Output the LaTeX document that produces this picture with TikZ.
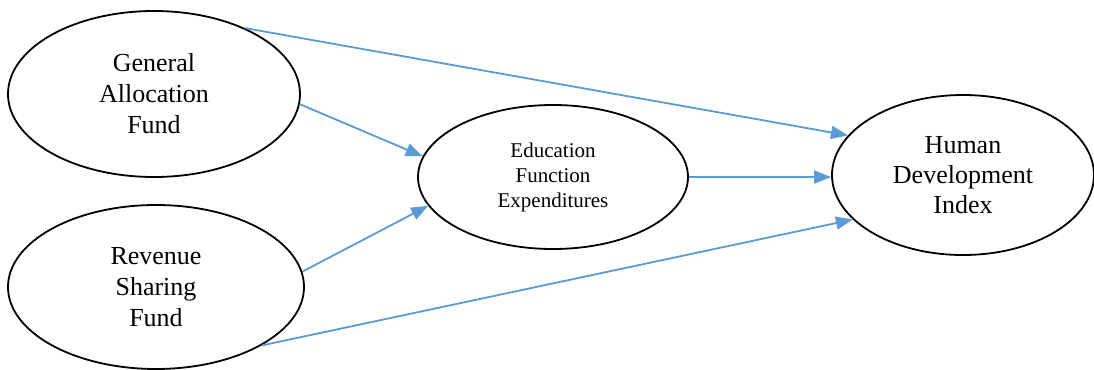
\documentclass[tikz,border=0pt]{standalone}
\usepackage{fontspec}
\setmainfont{Liberation Serif}
\definecolor{lineblue}{RGB}{91, 155, 213}
\usetikzlibrary{arrows.meta}
\usetikzlibrary{shapes.geometric}
\tikzset{
  construct/.style={
    ellipse, draw=black, line width=0.9pt, inner sep=0,
    align=center, font=\fontsize{13}{15.5}\selectfont
  },
  arrow/.style={-{Triangle[length=8.5pt, width=6.5pt]}, draw=lineblue, line width=0.9pt}
}
\begin{document}
\begin{tikzpicture}[x=0.5pt, y=-0.5pt]
  \useasboundingbox (0,0) rectangle (1094,370);

  \node[construct, minimum width=146pt, minimum height=83pt] (gaf) at (154,94) {General\\Allocation\\Fund};
  \node[construct, minimum width=148pt, minimum height=82pt] (rsf) at (156,287) {Revenue\\Sharing\\Fund};
  \node[construct, minimum width=135pt, minimum height=72pt,
        font=\fontsize{10.5}{12.5}\selectfont] (efe) at (553,177) {Education\\Function\\Expenditures};
  \node[construct, minimum width=131pt, minimum height=80pt,
        font=\fontsize{13}{15}\selectfont] (hdi) at (963,175) {Human\\Development\\Index};

  \draw[arrow] (gaf.36) -- (hdi.161);
  \draw[arrow] (gaf.-4) -- (efe.171);
  \draw[arrow] (rsf.6) -- (efe.-167);
  \draw[arrow] (efe.east) -- (efe.east -| hdi.west);
  \draw[arrow] (rsf.-29) -- (hdi.-158);
\end{tikzpicture}
\end{document}
